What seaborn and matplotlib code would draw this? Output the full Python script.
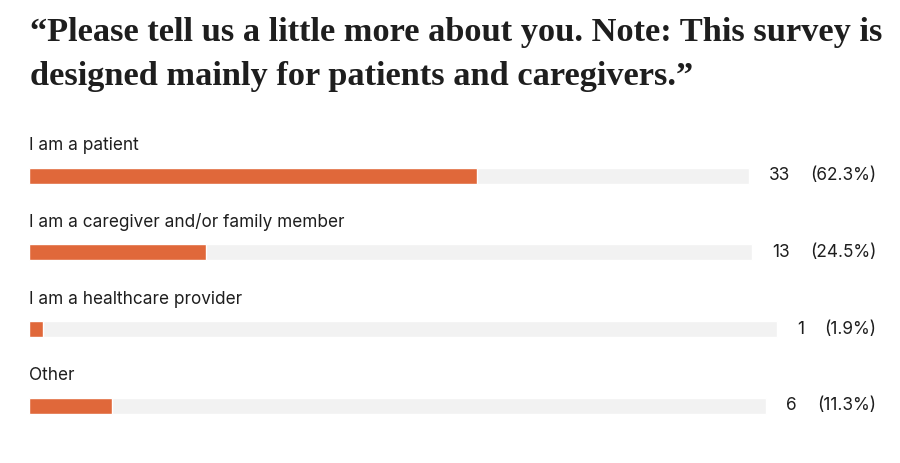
import matplotlib
matplotlib.use("Agg")
import matplotlib.pyplot as plt
import seaborn as sns
import pandas as pd

# ---- data ----
title_lines = [
    "\u201cPlease tell us a little more about you. Note: This survey is",
    "designed mainly for patients and caregivers.\u201d",
]
categories = [
    "I am a patient",
    "I am a caregiver and/or family member",
    "I am a healthcare provider",
    "Other",
]
counts = [33, 13, 1, 6]
percents = [62.3, 24.5, 1.9, 11.3]

# ---- style ----
ORANGE = "#E0683A"
TRACK = "#F2F2F2"
TEXT = "#1e1e1e"
LABEL_FS = 12.4

sns.set_theme(style="white")
plt.rcParams["font.family"] = ["Inter", "DejaVu Sans"]

W, H, DPI = 900, 463, 100
fig = plt.figure(figsize=(W / DPI, H / DPI), dpi=DPI)
fig.patch.set_facecolor("white")
renderer = fig.canvas.get_renderer()

# title (two lines, serif bold)
title_x = 30
title_w_target = 852
t0 = fig.text(title_x / W, 1 - 41 / H, title_lines[0], fontsize=20,
              fontweight="bold", family=["Liberation Serif", "DejaVu Serif"],
              color=TEXT, ha="left", va="baseline")
w0 = t0.get_window_extent(renderer).width
title_fs = 20 * title_w_target / w0
t0.set_fontsize(title_fs)
fig.text(title_x / W, 1 - 85 / H, title_lines[1], fontsize=title_fs,
         fontweight="bold", family=["Liberation Serif", "DejaVu Serif"],
         color=TEXT, ha="left", va="baseline")

# bars axes laid out in pixel units
left_px, right_px = 29, 876
pitch = 76.8
first_center = 175.5
bar_h = 16
n = len(categories)
top_px = first_center - pitch / 2
bottom_px = top_px + pitch * n
ax = fig.add_axes([left_px / W, 1 - bottom_px / H,
                   (right_px - left_px) / W, (bottom_px - top_px) / H])
span = right_px - left_px
ax.set_xlim(0, span)
ax.set_ylim(n - 0.5, -0.5)

gap_pct = 20
gap_track = 20
track_w = []
for i, (c, p) in enumerate(zip(counts, percents)):
    tp = ax.text(span, i, f"({p}%)", ha="right", va="center",
                 fontsize=LABEL_FS, color=TEXT, clip_on=False)
    p_left = tp.get_window_extent(renderer).x0 - left_px
    tc = ax.text(p_left - gap_pct, i, f"{c}", ha="right", va="center",
                 fontsize=LABEL_FS, color=TEXT, clip_on=False)
    c_left = tc.get_window_extent(renderer).x0 - left_px
    track_w.append(c_left - gap_track)
    ax.text(0, i - 25.5 / pitch, categories[i], ha="left", va="baseline",
            fontsize=LABEL_FS, color=TEXT, clip_on=False)

df = pd.DataFrame({
    "category": categories,
    "track": track_w,
    "value": [p / 100 * tw for p, tw in zip(percents, track_w)],
})
sns.barplot(data=df, x="track", y="category", order=categories, orient="h",
            color=TRACK, saturation=1, width=bar_h / pitch, ax=ax)
sns.barplot(data=df, x="value", y="category", order=categories, orient="h",
            color=ORANGE, saturation=1, width=bar_h / pitch, ax=ax)

ax.set_xlim(0, span)
ax.set_ylim(n - 0.5, -0.5)
ax.axis("off")

fig.savefig("out.png", dpi=DPI, facecolor="white")
